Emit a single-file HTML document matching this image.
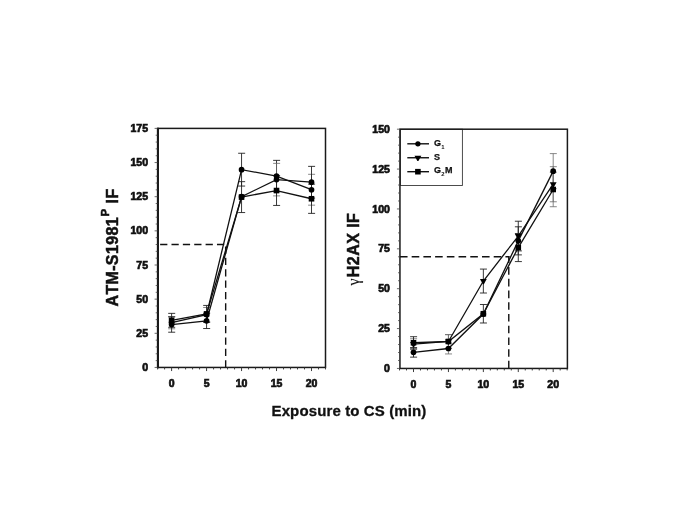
<!DOCTYPE html>
<html><head><meta charset="utf-8"><title>Figure</title>
<style>
html,body{margin:0;padding:0;background:#fff;}
body{width:685px;height:513px;overflow:hidden;}
svg{display:block;}
text{font-family:"Liberation Sans",sans-serif;font-weight:bold;fill:#111;stroke:#111;stroke-width:0.7px;font-kerning:none;}
.tk{font-size:10.5px;}
.lg{font-size:9px;stroke-width:0.25px;}
.sub{font-size:5.9px;stroke-width:0;}
.xl{font-size:15px;letter-spacing:0.12px;stroke-width:0.3px;}
.yl{font-size:16px;stroke-width:0.5px;}
.sup{font-size:11.5px;}
.gam{font-family:"Liberation Serif","DejaVu Serif",serif;font-weight:normal;font-size:16px;stroke-width:0.15px;}
</style></head><body>
<svg width="685" height="513" viewBox="0 0 685 513">
<rect width="685" height="513" fill="#fff"/>
<g>
<path d="M171.60 316.50V328.79M168.20 316.50h7M168.20 328.79h7" stroke="#6a6a6a" stroke-width="0.8" fill="none"/>
<path d="M206.57 307.48V321.69M203.17 307.48h7M203.17 321.69h7" stroke="#6a6a6a" stroke-width="0.8" fill="none"/>
<path d="M241.55 153.26V186.05M238.15 153.26h7M238.15 186.05h7" stroke="#222" stroke-width="0.9" fill="none"/>
<path d="M276.52 160.36V191.78M273.12 160.36h7M273.12 191.78h7" stroke="#222" stroke-width="0.9" fill="none"/>
<path d="M311.50 174.30V205.17M308.10 174.30h7M308.10 205.17h7" stroke="#6a6a6a" stroke-width="0.8" fill="none"/>
<path d="M171.60 316.91V332.21M168.20 316.91h7M168.20 332.21h7" stroke="#222" stroke-width="0.9" fill="none"/>
<path d="M206.57 313.22V328.52M203.17 313.22h7M203.17 328.52h7" stroke="#222" stroke-width="0.9" fill="none"/>
<path d="M276.52 163.37V195.88M273.12 163.37h7M273.12 195.88h7" stroke="#6a6a6a" stroke-width="0.8" fill="none"/>
<path d="M311.50 166.37V198.07M308.10 166.37h7M308.10 198.07h7" stroke="#222" stroke-width="0.9" fill="none"/>
<path d="M171.60 313.36V327.29M168.20 313.36h7M168.20 327.29h7" stroke="#222" stroke-width="0.9" fill="none"/>
<path d="M206.57 305.43V322.37M203.17 305.43h7M203.17 322.37h7" stroke="#222" stroke-width="0.9" fill="none"/>
<path d="M241.55 181.67V212.55M238.15 181.67h7M238.15 212.55h7" stroke="#222" stroke-width="0.9" fill="none"/>
<path d="M276.52 175.66V205.44M273.12 175.66h7M273.12 205.44h7" stroke="#222" stroke-width="0.9" fill="none"/>
<path d="M311.50 184.13V213.37M308.10 184.13h7M308.10 213.37h7" stroke="#222" stroke-width="0.9" fill="none"/>
<polyline points="171.60,322.65 206.57,314.59 241.55,169.65 276.52,176.07 311.50,189.73" fill="none" stroke="#111" stroke-width="1.3"/>
<polyline points="171.60,324.56 206.57,320.87 241.55,196.70 276.52,179.62 311.50,182.22" fill="none" stroke="#111" stroke-width="1.3"/>
<polyline points="171.60,320.32 206.57,313.90 241.55,197.11 276.52,190.55 311.50,198.75" fill="none" stroke="#111" stroke-width="1.3"/>
<circle cx="171.60" cy="322.65" r="2.85" fill="#000"/>
<circle cx="206.57" cy="314.59" r="2.85" fill="#000"/>
<circle cx="241.55" cy="169.65" r="2.85" fill="#000"/>
<circle cx="276.52" cy="176.07" r="2.85" fill="#000"/>
<circle cx="311.50" cy="189.73" r="2.85" fill="#000"/>
<circle cx="171.60" cy="324.56" r="2.85" fill="#000"/>
<circle cx="206.57" cy="320.87" r="2.85" fill="#000"/>
<circle cx="241.55" cy="196.70" r="2.85" fill="#000"/>
<circle cx="276.52" cy="179.62" r="2.85" fill="#000"/>
<circle cx="311.50" cy="182.22" r="2.85" fill="#000"/>
<rect x="168.80" y="317.52" width="5.6" height="5.6" fill="#000"/>
<rect x="203.77" y="311.10" width="5.6" height="5.6" fill="#000"/>
<rect x="238.75" y="194.31" width="5.6" height="5.6" fill="#000"/>
<rect x="273.72" y="187.75" width="5.6" height="5.6" fill="#000"/>
<rect x="308.70" y="195.95" width="5.6" height="5.6" fill="#000"/>
<path d="M225.67 367.45V243.81" stroke="#111" stroke-width="1.4" stroke-dasharray="7.25 4.12" fill="none"/>
<path d="M157.60 244.51H226.37" stroke="#111" stroke-width="1.4" stroke-dasharray="7.25 4.12" stroke-dashoffset="8.85" fill="none"/>
<rect x="157.60" y="128.40" width="167.90" height="239.05" fill="none" stroke="#1a1a1a" stroke-width="1.5"/>
<path d="M158.15 127.65V368.20" stroke="#1a1a1a" stroke-width="1.7" fill="none"/>
<path d="M157.60 367.45h-3.0 M157.60 360.62h-1.9 M157.60 353.79h-1.9 M157.60 346.96h-1.9 M157.60 340.13h-1.9 M157.60 333.30h-3.0 M157.60 326.47h-1.9 M157.60 319.64h-1.9 M157.60 312.81h-1.9 M157.60 305.98h-1.9 M157.60 299.15h-3.0 M157.60 292.32h-1.9 M157.60 285.49h-1.9 M157.60 278.66h-1.9 M157.60 271.83h-1.9 M157.60 265.00h-3.0 M157.60 258.17h-1.9 M157.60 251.34h-1.9 M157.60 244.51h-1.9 M157.60 237.68h-1.9 M157.60 230.85h-3.0 M157.60 224.02h-1.9 M157.60 217.19h-1.9 M157.60 210.36h-1.9 M157.60 203.53h-1.9 M157.60 196.70h-3.0 M157.60 189.87h-1.9 M157.60 183.04h-1.9 M157.60 176.21h-1.9 M157.60 169.38h-1.9 M157.60 162.55h-3.0 M157.60 155.72h-1.9 M157.60 148.89h-1.9 M157.60 142.06h-1.9 M157.60 135.23h-1.9 M157.60 128.40h-3.0" stroke="#444" stroke-width="0.8" fill="none"/>
<path d="M157.61 367.45v2.0 M164.60 367.45v2.0 M171.60 367.45v3.6 M178.59 367.45v2.0 M185.59 367.45v2.0 M192.58 367.45v2.0 M199.58 367.45v2.0 M206.57 367.45v3.6 M213.57 367.45v2.0 M220.56 367.45v2.0 M227.56 367.45v2.0 M234.56 367.45v2.0 M241.55 367.45v3.6 M248.55 367.45v2.0 M255.54 367.45v2.0 M262.53 367.45v2.0 M269.53 367.45v2.0 M276.52 367.45v3.6 M283.52 367.45v2.0 M290.51 367.45v2.0 M297.51 367.45v2.0 M304.50 367.45v2.0 M311.50 367.45v3.6 M318.50 367.45v2.0 M325.49 367.45v2.0" stroke="#333" stroke-width="0.95" fill="none"/>
<text x="148.00" y="371.05" text-anchor="end" class="tk">0</text>
<text x="148.00" y="336.90" text-anchor="end" class="tk">25</text>
<text x="148.00" y="302.75" text-anchor="end" class="tk">50</text>
<text x="148.00" y="268.60" text-anchor="end" class="tk">75</text>
<text x="148.00" y="234.45" text-anchor="end" class="tk">100</text>
<text x="148.00" y="200.30" text-anchor="end" class="tk">125</text>
<text x="148.00" y="166.15" text-anchor="end" class="tk">150</text>
<text x="148.00" y="132.00" text-anchor="end" class="tk">175</text>
<text x="171.60" y="387.05" text-anchor="middle" class="tk">0</text>
<text x="206.57" y="387.05" text-anchor="middle" class="tk">5</text>
<text x="241.55" y="387.05" text-anchor="middle" class="tk">10</text>
<text x="276.52" y="387.05" text-anchor="middle" class="tk">15</text>
<text x="311.50" y="387.05" text-anchor="middle" class="tk">20</text>
</g>
<g>
<rect x="400.55" y="129.20" width="61.85" height="56.30" fill="#fff" stroke="#3a3a3a" stroke-width="0.9"/>
<path d="M407.3 143.80H429" stroke="#111" stroke-width="1.4"/>
<circle cx="417.90" cy="143.80" r="2.65" fill="#000"/>
<text x="434" y="145.80" class="lg">G<tspan class="sub" dy="2.8" dx="0.3">1</tspan></text>
<path d="M407.3 157.75H429" stroke="#111" stroke-width="1.4"/>
<path d="M414.50 155.75h6.8l-2.9 5.3h-1z" fill="#000"/>
<text x="434" y="160.25" class="lg">S</text>
<path d="M407.3 171.70H429" stroke="#111" stroke-width="1.4"/>
<rect x="415.10" y="168.90" width="5.6" height="5.6" fill="#000"/>
<text x="434" y="173.30" class="lg">G<tspan class="sub" dy="2.8" dx="0.3">2</tspan><tspan dy="-2.8" dx="0.3">M</tspan></text>
<path d="M413.50 347.56V357.13M410.10 347.56h7M410.10 357.13h7" stroke="#222" stroke-width="0.9" fill="none"/>
<path d="M448.43 343.09V353.94M445.03 343.09h7M445.03 353.94h7" stroke="#6a6a6a" stroke-width="0.8" fill="none"/>
<path d="M518.27 226.81V254.89M514.88 226.81h7M514.88 254.89h7" stroke="#222" stroke-width="0.9" fill="none"/>
<path d="M553.20 153.60V188.69M549.80 153.60h7M549.80 188.69h7" stroke="#6a6a6a" stroke-width="0.8" fill="none"/>
<path d="M413.50 338.78V349.31M410.10 338.78h7M410.10 349.31h7" stroke="#6a6a6a" stroke-width="0.8" fill="none"/>
<path d="M448.43 334.64V348.35M445.03 334.64h7M445.03 348.35h7" stroke="#6a6a6a" stroke-width="0.8" fill="none"/>
<path d="M483.35 269.08V293.01M479.95 269.08h7M479.95 293.01h7" stroke="#222" stroke-width="0.9" fill="none"/>
<path d="M518.27 221.23V250.90M514.88 221.23h7M514.88 250.90h7" stroke="#222" stroke-width="0.9" fill="none"/>
<path d="M553.20 166.68V201.77M549.80 166.68h7M549.80 201.77h7" stroke="#6a6a6a" stroke-width="0.8" fill="none"/>
<path d="M413.50 336.71V348.83M410.10 336.71h7M410.10 348.83h7" stroke="#222" stroke-width="0.9" fill="none"/>
<path d="M448.43 334.64V348.35M445.03 334.64h7M445.03 348.35h7" stroke="#6a6a6a" stroke-width="0.8" fill="none"/>
<path d="M483.35 304.49V322.99M479.95 304.49h7M479.95 322.99h7" stroke="#222" stroke-width="0.9" fill="none"/>
<path d="M518.27 233.51V261.58M514.88 233.51h7M514.88 261.58h7" stroke="#222" stroke-width="0.9" fill="none"/>
<path d="M553.20 172.26V206.72M549.80 172.26h7M549.80 206.72h7" stroke="#6a6a6a" stroke-width="0.8" fill="none"/>
<polyline points="413.50,352.34 448.43,348.51 483.35,314.06 518.27,240.85 553.20,171.15" fill="none" stroke="#111" stroke-width="1.3"/>
<polyline points="413.50,344.05 448.43,341.49 483.35,281.04 518.27,236.06 553.20,184.23" fill="none" stroke="#111" stroke-width="1.3"/>
<polyline points="413.50,342.77 448.43,341.49 483.35,313.74 518.27,247.55 553.20,189.49" fill="none" stroke="#111" stroke-width="1.3"/>
<circle cx="413.50" cy="352.34" r="2.85" fill="#000"/>
<circle cx="448.43" cy="348.51" r="2.85" fill="#000"/>
<circle cx="483.35" cy="314.06" r="2.85" fill="#000"/>
<circle cx="518.27" cy="240.85" r="2.85" fill="#000"/>
<circle cx="553.20" cy="171.15" r="2.85" fill="#000"/>
<path d="M410.10 342.05h6.8l-2.9 5.3h-1z" fill="#000"/>
<path d="M445.03 339.49h6.8l-2.9 5.3h-1z" fill="#000"/>
<path d="M479.95 279.04h6.8l-2.9 5.3h-1z" fill="#000"/>
<path d="M514.88 234.06h6.8l-2.9 5.3h-1z" fill="#000"/>
<path d="M549.80 182.23h6.8l-2.9 5.3h-1z" fill="#000"/>
<rect x="410.70" y="339.97" width="5.6" height="5.6" fill="#000"/>
<rect x="445.62" y="338.69" width="5.6" height="5.6" fill="#000"/>
<rect x="480.55" y="310.94" width="5.6" height="5.6" fill="#000"/>
<rect x="515.48" y="244.75" width="5.6" height="5.6" fill="#000"/>
<rect x="550.40" y="186.69" width="5.6" height="5.6" fill="#000"/>
<path d="M508.78 368.45V256.10" stroke="#111" stroke-width="1.4" stroke-dasharray="7.6 4.12" fill="none"/>
<path d="M399.95 256.80H509.48" stroke="#111" stroke-width="1.4" stroke-dasharray="7.6 4.12" stroke-dashoffset="0" fill="none"/>
<rect x="399.95" y="129.20" width="167.45" height="239.25" fill="none" stroke="#1a1a1a" stroke-width="1.5"/>
<path d="M399.95 368.45h-3.0 M399.95 360.47h-1.9 M399.95 352.50h-1.9 M399.95 344.52h-1.9 M399.95 336.55h-1.9 M399.95 328.57h-3.0 M399.95 320.60h-1.9 M399.95 312.62h-1.9 M399.95 304.65h-1.9 M399.95 296.67h-1.9 M399.95 288.70h-3.0 M399.95 280.73h-1.9 M399.95 272.75h-1.9 M399.95 264.77h-1.9 M399.95 256.80h-1.9 M399.95 248.82h-3.0 M399.95 240.85h-1.9 M399.95 232.88h-1.9 M399.95 224.90h-1.9 M399.95 216.92h-1.9 M399.95 208.95h-3.0 M399.95 200.97h-1.9 M399.95 193.00h-1.9 M399.95 185.03h-1.9 M399.95 177.05h-1.9 M399.95 169.07h-3.0 M399.95 161.10h-1.9 M399.95 153.12h-1.9 M399.95 145.15h-1.9 M399.95 137.17h-1.9 M399.95 129.20h-3.0" stroke="#444" stroke-width="0.8" fill="none"/>
<path d="M399.53 368.45v2.0 M406.51 368.45v2.0 M413.50 368.45v3.6 M420.49 368.45v2.0 M427.47 368.45v2.0 M434.45 368.45v2.0 M441.44 368.45v2.0 M448.43 368.45v3.6 M455.41 368.45v2.0 M462.39 368.45v2.0 M469.38 368.45v2.0 M476.37 368.45v2.0 M483.35 368.45v3.6 M490.34 368.45v2.0 M497.32 368.45v2.0 M504.31 368.45v2.0 M511.29 368.45v2.0 M518.27 368.45v3.6 M525.26 368.45v2.0 M532.25 368.45v2.0 M539.23 368.45v2.0 M546.22 368.45v2.0 M553.20 368.45v3.6 M560.18 368.45v2.0 M567.17 368.45v2.0" stroke="#333" stroke-width="0.95" fill="none"/>
<text x="389.90" y="372.05" text-anchor="end" class="tk">0</text>
<text x="389.90" y="332.18" text-anchor="end" class="tk">25</text>
<text x="389.90" y="292.30" text-anchor="end" class="tk">50</text>
<text x="389.90" y="252.42" text-anchor="end" class="tk">75</text>
<text x="389.90" y="212.55" text-anchor="end" class="tk">100</text>
<text x="389.90" y="172.67" text-anchor="end" class="tk">125</text>
<text x="389.90" y="132.80" text-anchor="end" class="tk">150</text>
<text x="413.50" y="388.05" text-anchor="middle" class="tk">0</text>
<text x="448.43" y="388.05" text-anchor="middle" class="tk">5</text>
<text x="483.35" y="388.05" text-anchor="middle" class="tk">10</text>
<text x="518.27" y="388.05" text-anchor="middle" class="tk">15</text>
<text x="553.20" y="388.05" text-anchor="middle" class="tk">20</text>
</g>
<text x="349" y="415.6" text-anchor="middle" class="xl">Exposure to CS (min)</text>
<text transform="translate(117.9 247.5) rotate(-90)" text-anchor="middle" class="yl" style="letter-spacing:0.35px">ATM-S1981<tspan class="sup" dy="-9" dx="0.6">P</tspan><tspan dy="9" dx="0.3"> IF</tspan></text>
<text transform="translate(358.9 249.1) rotate(-90)" text-anchor="middle" class="yl" style="letter-spacing:0.45px"><tspan class="gam">γ</tspan><tspan dx="0.8">H2AX IF</tspan></text>
</svg>
</body></html>
